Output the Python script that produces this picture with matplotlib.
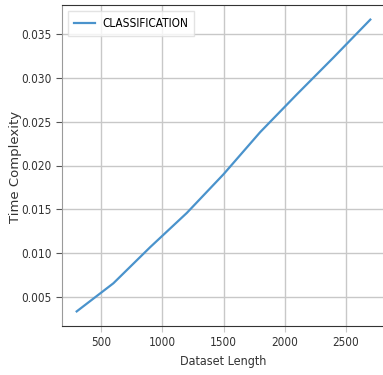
import matplotlib
matplotlib.use('Agg')
import matplotlib.pyplot as plt

# dataset lengths and measured time
dataset_length = [300, 600, 900, 1200, 1500, 1800, 2100, 2400, 2700]
time_complexity = [0.0034, 0.0066, 0.0107, 0.0146, 0.0190, 0.0238, 0.0281, 0.0323, 0.0366]
series_label = 'CLASSIFICATION'


def main():
    plt.rcParams['font.family'] = ['DejaVu Sans']
    plt.rcParams['font.stretch'] = 'condensed'

    fig = plt.figure(figsize=(3.83, 3.75), dpi=100)
    ax = fig.add_axes([62 / 383, 49 / 375, 323 / 383, 321 / 375])

    ax.plot(dataset_length, time_complexity, color='#4a93cc', lw=1.6, label=series_label)

    ax.grid(True, color='#c8c8c8', lw=1.0)
    ax.set_axisbelow(True)
    ax.set_xticks([500, 1000, 1500, 2000, 2500])
    ax.set_yticks([0.005, 0.010, 0.015, 0.020, 0.025, 0.030, 0.035])
    ax.tick_params(axis='x', length=4, color='#c8c8c8', labelsize=8.5, labelcolor='#333333')
    ax.tick_params(axis='y', length=4, color='#555555', labelsize=8.5, labelcolor='#333333')

    ax.spines['left'].set_color('#9a9a9a')
    for side in ['bottom', 'top']:
        ax.spines[side].set_color('#333333')
    ax.spines['right'].set_visible(False)

    ax.set_xlabel('Dataset Length', fontsize=9, color='#333333', labelpad=4)
    ax.set_ylabel('Time Complexity', fontsize=9.5, color='#333333', fontstretch='normal')
    ax.yaxis.set_label_coords(-0.124, 0.495)

    leg = ax.legend(loc='upper left', fontsize=8.5, frameon=True, handlelength=1.8,
                    handletextpad=0.6, borderaxespad=0.5, borderpad=0.5,
                    fancybox=False)
    leg.get_frame().set_edgecolor('#dddddd')

    fig.savefig('out.png', dpi=100)


if __name__ == '__main__':
    main()
